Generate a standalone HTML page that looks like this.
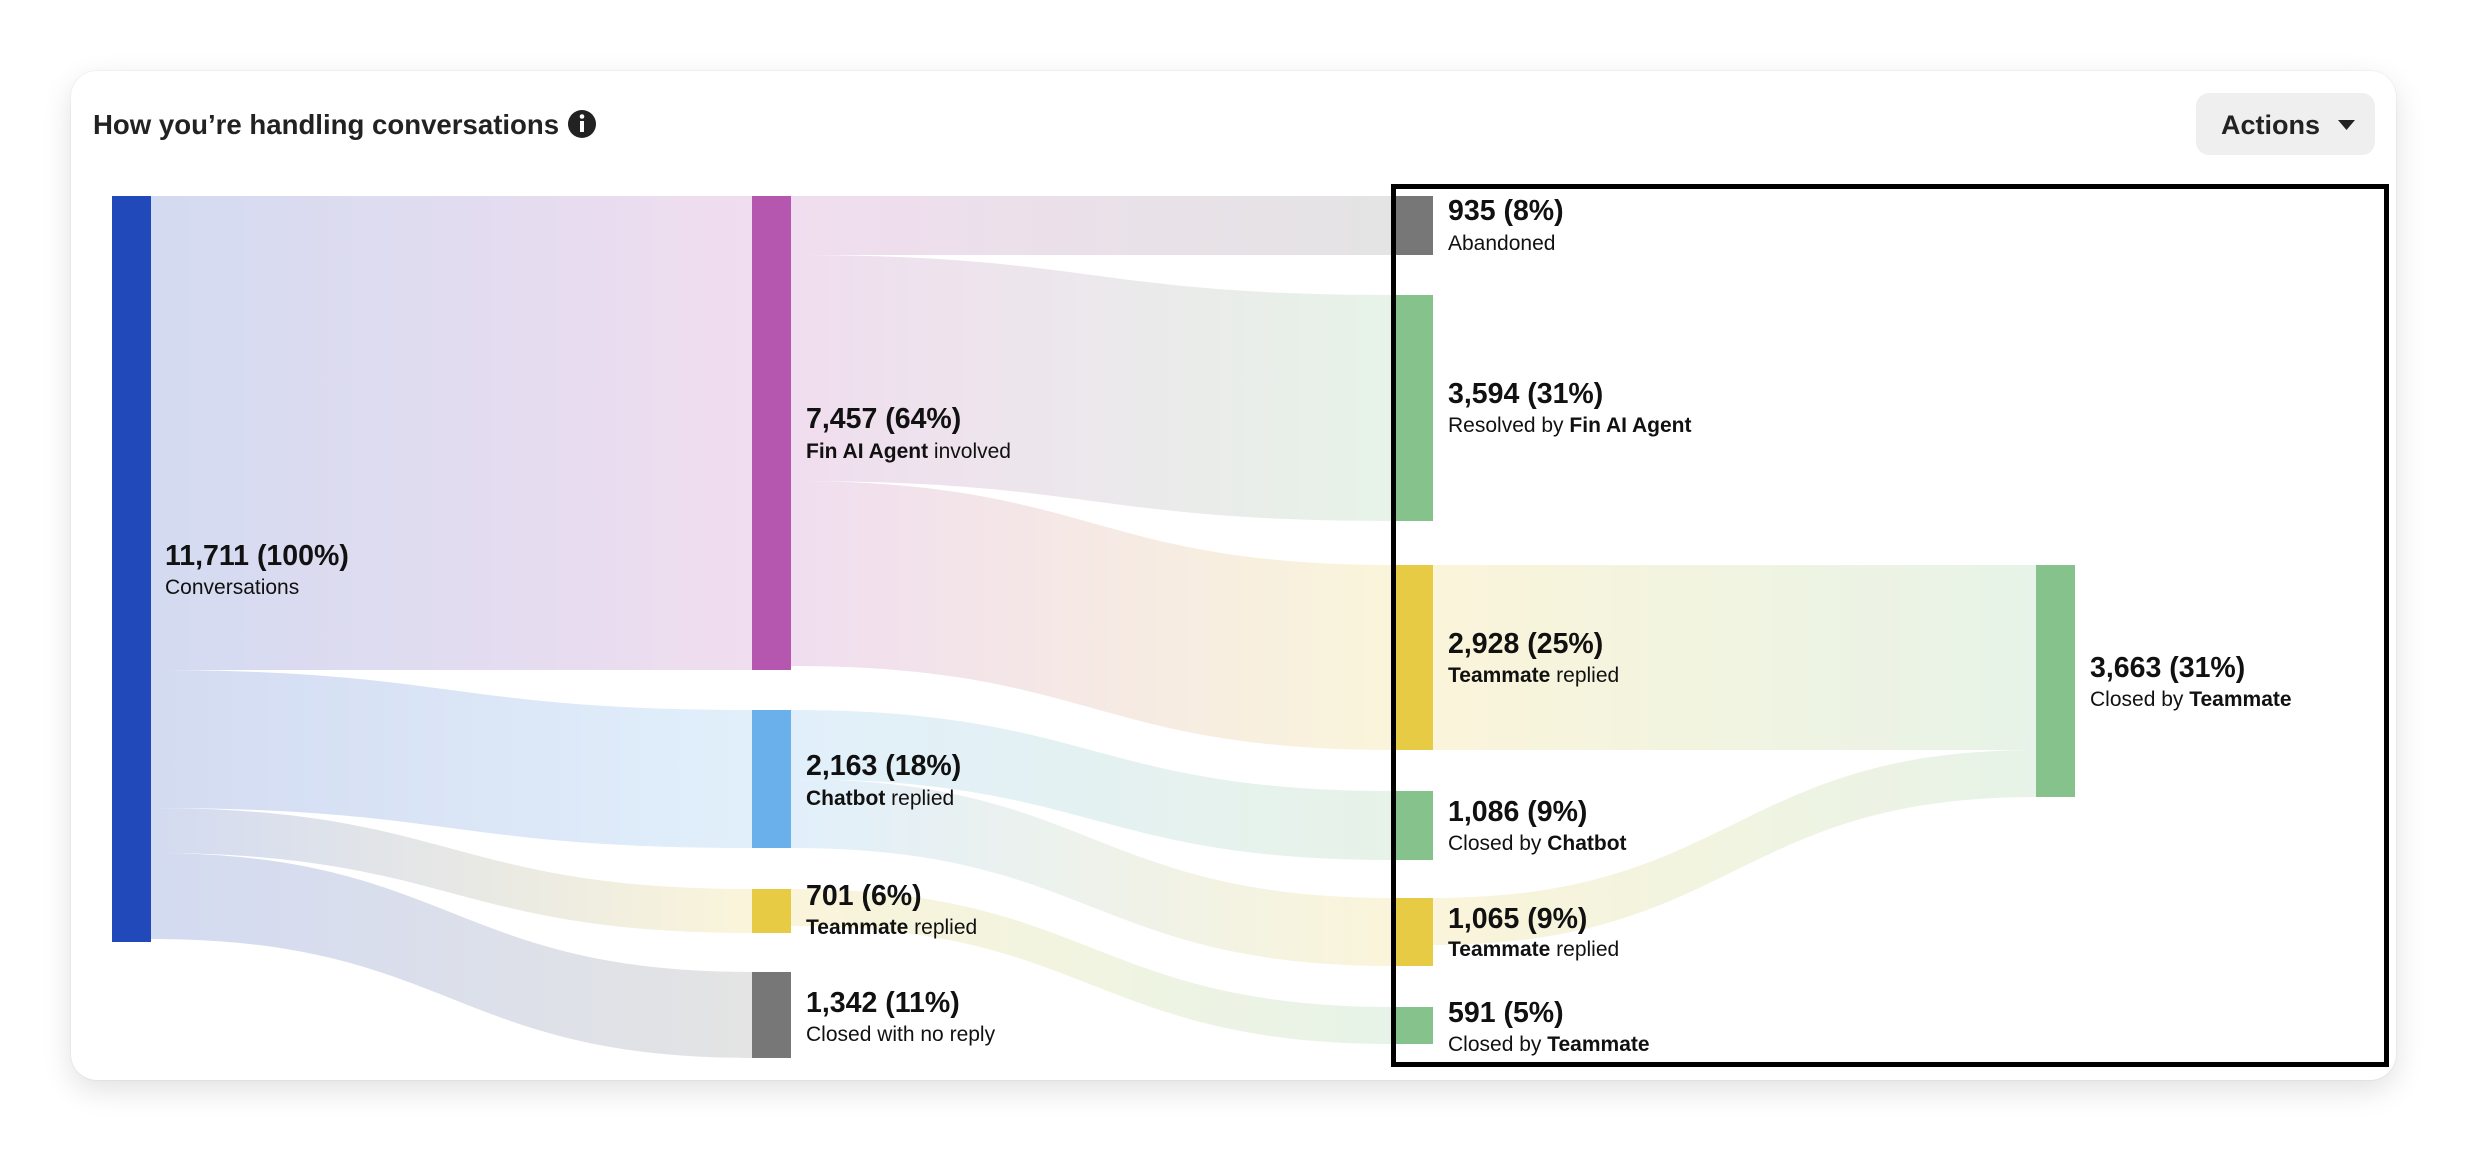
<!DOCTYPE html>
<html><head><meta charset="utf-8"><style>
html,body{margin:0;padding:0;background:#fff;}
body{width:2468px;height:1152px;overflow:hidden;position:relative;font-family:"Liberation Sans",sans-serif;}
.card{position:absolute;left:71px;top:71px;width:2325px;height:1009px;border-radius:26px;background:#fff;box-shadow:0 10px 30px rgba(0,0,0,0.12),0 0 0 1px rgba(0,0,0,0.03);}
svg{position:absolute;left:0;top:0;}
.n{font-weight:bold;font-size:28.5px;fill:#111;}
.s{font-size:21px;fill:#111;}
.s tspan.b{font-weight:bold;}
</style></head><body>
<div class="card"></div>
<svg width="2468" height="1152" viewBox="0 0 2468 1152" xmlns="http://www.w3.org/2000/svg">
<defs>
<linearGradient id="g1" gradientUnits="userSpaceOnUse" x1="151" x2="752"><stop offset="0" stop-color="#2249B9" stop-opacity="0.2"/><stop offset="1" stop-color="#B556AF" stop-opacity="0.2"/></linearGradient>
<linearGradient id="g2" gradientUnits="userSpaceOnUse" x1="151" x2="752"><stop offset="0" stop-color="#2249B9" stop-opacity="0.2"/><stop offset="1" stop-color="#6AB0EB" stop-opacity="0.2"/></linearGradient>
<linearGradient id="g3" gradientUnits="userSpaceOnUse" x1="151" x2="752"><stop offset="0" stop-color="#2249B9" stop-opacity="0.2"/><stop offset="1" stop-color="#E8CB45" stop-opacity="0.2"/></linearGradient>
<linearGradient id="g4" gradientUnits="userSpaceOnUse" x1="151" x2="752"><stop offset="0" stop-color="#2249B9" stop-opacity="0.2"/><stop offset="1" stop-color="#777777" stop-opacity="0.2"/></linearGradient>
<linearGradient id="f1" gradientUnits="userSpaceOnUse" x1="791" x2="1394"><stop offset="0" stop-color="#B556AF" stop-opacity="0.2"/><stop offset="1" stop-color="#777777" stop-opacity="0.2"/></linearGradient>
<linearGradient id="f2" gradientUnits="userSpaceOnUse" x1="791" x2="1394"><stop offset="0" stop-color="#B556AF" stop-opacity="0.2"/><stop offset="1" stop-color="#86C28B" stop-opacity="0.2"/></linearGradient>
<linearGradient id="f3" gradientUnits="userSpaceOnUse" x1="791" x2="1394"><stop offset="0" stop-color="#B556AF" stop-opacity="0.2"/><stop offset="1" stop-color="#E8CB45" stop-opacity="0.2"/></linearGradient>
<linearGradient id="c1" gradientUnits="userSpaceOnUse" x1="791" x2="1394"><stop offset="0" stop-color="#6AB0EB" stop-opacity="0.2"/><stop offset="1" stop-color="#86C28B" stop-opacity="0.2"/></linearGradient>
<linearGradient id="c2" gradientUnits="userSpaceOnUse" x1="791" x2="1394"><stop offset="0" stop-color="#6AB0EB" stop-opacity="0.2"/><stop offset="1" stop-color="#E8CB45" stop-opacity="0.2"/></linearGradient>
<linearGradient id="y1" gradientUnits="userSpaceOnUse" x1="791" x2="1394"><stop offset="0" stop-color="#E8CB45" stop-opacity="0.2"/><stop offset="1" stop-color="#86C28B" stop-opacity="0.2"/></linearGradient>
<linearGradient id="t1" gradientUnits="userSpaceOnUse" x1="1433" x2="2036"><stop offset="0" stop-color="#E8CB45" stop-opacity="0.2"/><stop offset="1" stop-color="#86C28B" stop-opacity="0.2"/></linearGradient>
</defs>
<path d="M151 196 C451 196 451 196 752 196 L752 670 C451 670 451 670 151 670 Z" fill="url(#g1)"/>
<path d="M151 670 C451 670 451 710 752 710 L752 848 C451 848 451 808 151 808 Z" fill="url(#g2)"/>
<path d="M151 808 C451 808 451 889 752 889 L752 933 C451 933 451 853 151 853 Z" fill="url(#g3)"/>
<path d="M151 853 C451 853 451 972 752 972 L752 1058 C451 1058 451 939 151 939 Z" fill="url(#g4)"/>
<path d="M791 196 C1092 196 1092 196 1394 196 L1394 255 C1092 255 1092 255 791 255 Z" fill="url(#f1)"/>
<path d="M791 255 C1092 255 1092 295 1394 295 L1394 521 C1092 521 1092 481 791 481 Z" fill="url(#f2)"/>
<path d="M791 481 C1092 481 1092 565 1394 565 L1394 750 C1092 750 1092 666 791 666 Z" fill="url(#f3)"/>
<path d="M791 710 C1092 710 1092 791 1394 791 L1394 860 C1092 860 1092 779 791 779 Z" fill="url(#c1)"/>
<path d="M791 779 C1092 779 1092 898 1394 898 L1394 966 C1092 966 1092 848 791 848 Z" fill="url(#c2)"/>
<path d="M791 889 C1092 889 1092 1007 1394 1007 L1394 1044 C1092 1044 1092 926 791 926 Z" fill="url(#y1)"/>
<path d="M1433 565 C1734 565 1734 565 2036 565 L2036 750 C1734 750 1734 750 1433 750 Z" fill="url(#t1)"/>
<path d="M1433 898 C1734 898 1734 750 2036 750 L2036 797 C1734 797 1734 945 1433 945 Z" fill="url(#t1)"/>
<rect x="112" y="196" width="39" height="746" fill="#2249B9"/>
<rect x="752" y="196" width="39" height="474" fill="#B556AF"/>
<rect x="752" y="710" width="39" height="138" fill="#6AB0EB"/>
<rect x="752" y="889" width="39" height="44" fill="#E8CB45"/>
<rect x="752" y="972" width="39" height="86" fill="#777777"/>
<rect x="1394" y="196" width="39" height="59" fill="#777777"/>
<rect x="1394" y="295" width="39" height="226" fill="#86C28B"/>
<rect x="1394" y="565" width="39" height="185" fill="#E8CB45"/>
<rect x="1394" y="791" width="39" height="69" fill="#86C28B"/>
<rect x="1394" y="898" width="39" height="68" fill="#E8CB45"/>
<rect x="1394" y="1007" width="39" height="37" fill="#86C28B"/>
<rect x="2036" y="565" width="39" height="232" fill="#86C28B"/>
<rect x="1393.5" y="186.5" width="993" height="878" fill="none" stroke="#000" stroke-width="5"/>
<text class="n" x="165" y="565">11,711 (100%)</text><text class="s" x="165" y="594">Conversations</text>
<text class="n" x="806" y="428">7,457 (64%)</text><text class="s" x="806" y="458"><tspan class="b">Fin AI Agent</tspan> involved</text>
<text class="n" x="806" y="775">2,163 (18%)</text><text class="s" x="806" y="805"><tspan class="b">Chatbot</tspan> replied</text>
<text class="n" x="806" y="905">701 (6%)</text><text class="s" x="806" y="934"><tspan class="b">Teammate</tspan> replied</text>
<text class="n" x="806" y="1012">1,342 (11%)</text><text class="s" x="806" y="1041">Closed with no reply</text>
<text class="n" x="1448" y="220">935 (8%)</text><text class="s" x="1448" y="250">Abandoned</text>
<text class="n" x="1448" y="403">3,594 (31%)</text><text class="s" x="1448" y="432">Resolved by <tspan class="b">Fin AI Agent</tspan></text>
<text class="n" x="1448" y="653">2,928 (25%)</text><text class="s" x="1448" y="682"><tspan class="b">Teammate</tspan> replied</text>
<text class="n" x="1448" y="821">1,086 (9%)</text><text class="s" x="1448" y="850">Closed by <tspan class="b">Chatbot</tspan></text>
<text class="n" x="1448" y="928">1,065 (9%)</text><text class="s" x="1448" y="956"><tspan class="b">Teammate</tspan> replied</text>
<text class="n" x="1448" y="1022">591 (5%)</text><text class="s" x="1448" y="1051">Closed by <tspan class="b">Teammate</tspan></text>
<text class="n" x="2090" y="677">3,663 (31%)</text><text class="s" x="2090" y="706">Closed by <tspan class="b">Teammate</tspan></text>
<text x="93" y="134" font-size="27.6" font-weight="bold" fill="#222">How you’re handling conversations</text>
<circle cx="582" cy="124" r="14" fill="#222"/>
<circle cx="582" cy="116.5" r="2.3" fill="#fff"/>
<rect x="580" y="121" width="4" height="11" fill="#fff"/>
<rect x="2196" y="93" width="179" height="62" rx="13" fill="#efefef"/>
<text x="2221" y="134" font-size="27" font-weight="bold" fill="#222">Actions</text>
<path d="M2338 120 L2355 120 L2346.5 130 Z" fill="#222"/>
</svg>
</body></html>
